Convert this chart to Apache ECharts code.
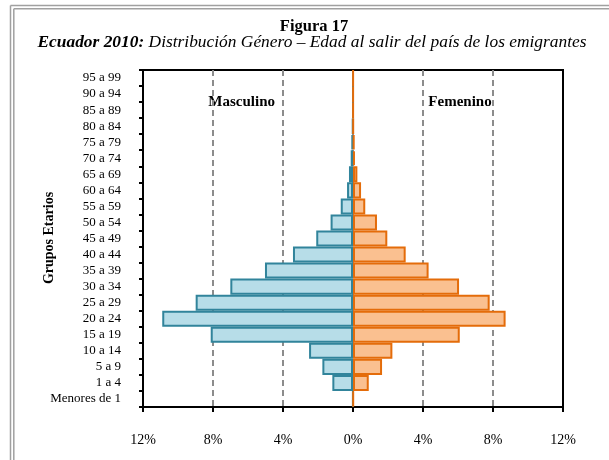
<!DOCTYPE html>
<html>
<head>
<meta charset="utf-8">
<script src="https://cdn.jsdelivr.net/npm/echarts@6/dist/echarts.min.js"></script>
<style>
html,body{margin:0;padding:0;background:#fff;}
#chart{width:609px;height:460px;}
</style>
</head>
<body>
<div id="chart"></div>
<script>
var categories = ['Menores de 1','1 a 4','5 a 9','10 a 14','15 a 19','20 a 24','25 a 29','30 a 34','35 a 39','40 a 44','45 a 49','50 a 54','55 a 59','60 a 64','65 a 69','70 a 74','75 a 79','80 a 84','85 a 89','90 a 94','95 a 99'];
var masculino = [0.01, 1.18, 1.75, 2.51, 8.13, 10.9, 8.99, 7.01, 5.03, 3.43, 2.10, 1.28, 0.70, 0.34, 0.23, 0.13, 0.08, 0.03, 0, 0, 0];
var femenino = [0.02, 0.90, 1.66, 2.25, 6.10, 8.72, 7.81, 6.06, 4.32, 3.01, 1.96, 1.37, 0.70, 0.46, 0.25, 0.11, 0.08, 0.02, 0.01, 0.01, 0.01];
var xTicks = {min: -12, max: 12, interval: 4};

var FONT = '"Liberation Serif","Times New Roman",serif';
var chart = echarts.init(document.getElementById('chart'), null, {renderer: 'canvas'});
var option = {
  backgroundColor: '#fff',
  animation: false,
  title: [
    {text: 'Figura 17', left: 309, top: 13, textAlign: 'center',
     textStyle: {fontFamily: FONT, fontSize: 16.5, fontWeight: 'bold', color: '#000'}},
    {text: '{b|Ecuador 2010:} Distribución Género – Edad al salir del país de los emigrantes',
     left: 307, top: 29, textAlign: 'center',
     textStyle: {fontFamily: FONT, fontSize: 17.4, fontStyle: 'italic', fontWeight: 'normal', color: '#000',
       rich: {b: {fontFamily: FONT, fontSize: 17.4, fontStyle: 'italic', fontWeight: 'bold', color: '#000'}}}}
  ],
  grid: {left: 143, right: 46, top: 70, bottom: 53, show: true, borderColor: '#000', borderWidth: 2, backgroundColor: '#fff'},
  xAxis: {
    type: 'value', min: xTicks.min, max: xTicks.max, interval: xTicks.interval,
    axisLine: {show: true, onZero: false, lineStyle: {color: '#000', width: 2}},
    axisTick: {show: true, inside: false, length: 5, lineStyle: {color: '#000', width: 2}},
    axisLabel: {fontFamily: FONT, fontSize: 14, color: '#000', margin: 26,
      formatter: function (v) { return Math.abs(v) + '%'; }},
    splitLine: {show: true, showMinLine: false, showMaxLine: false,
      lineStyle: {color: '#8c8c8c', width: 2, type: [6, 4]}}
  },
  yAxis: {
    type: 'category', data: categories,
    axisLine: {show: true, onZero: false, lineStyle: {color: '#000', width: 2}},
    axisTick: {show: true, length: 4, lineStyle: {color: '#000', width: 2}},
    axisLabel: {interval: 0, fontFamily: FONT, fontSize: 13, color: '#000', margin: 22}
  },
  series: [
    {name: 'Masculino', type: 'bar', barGap: '-100%', barCategoryGap: 0,
     data: masculino.map(function (v) { return -v; }),
     itemStyle: {color: '#b7dde8', borderColor: '#31849b', borderWidth: 2}},
    {name: 'Femenino', type: 'bar', barGap: '-100%', barCategoryGap: 0,
     data: femenino,
     itemStyle: {color: '#fac090', borderColor: '#e46c0a', borderWidth: 2}}
  ],
  graphic: [
    {type: 'text', x: 241.7, y: 102, style: {text: 'Masculino', font: 'bold 15px ' + FONT, fill: '#000', textAlign: 'center', textVerticalAlign: 'middle'}},
    {type: 'text', x: 460, y: 102, style: {text: 'Femenino', font: 'bold 15px ' + FONT, fill: '#000', textAlign: 'center', textVerticalAlign: 'middle'}},
    {type: 'text', x: 49, y: 238, rotation: Math.PI / 2, style: {text: 'Grupos Etarios', font: 'bold 14px ' + FONT, fill: '#000', textAlign: 'center', textVerticalAlign: 'middle'}},
    {type: 'line', shape: {x1: 10.5, y1: 5.5, x2: 10.5, y2: 460}, style: {stroke: '#a0a0a0', lineWidth: 1.5}},
    {type: 'line', shape: {x1: 10.5, y1: 5.5, x2: 609, y2: 5.5}, style: {stroke: '#a0a0a0', lineWidth: 1.5}},
    {type: 'line', shape: {x1: 13.8, y1: 8.8, x2: 13.8, y2: 460}, style: {stroke: '#a0a0a0', lineWidth: 1.5}},
    {type: 'line', shape: {x1: 13.8, y1: 8.8, x2: 609, y2: 8.8}, style: {stroke: '#a0a0a0', lineWidth: 1.5}}
  ]
};
chart.setOption(option);
</script>
</body>
</html>
